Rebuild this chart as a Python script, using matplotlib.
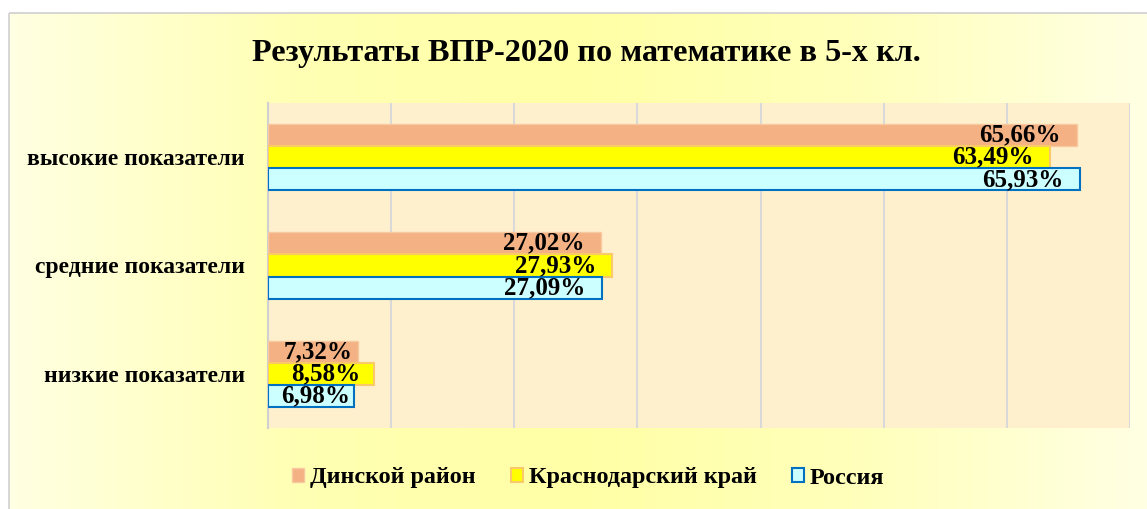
import numpy as np
import matplotlib.pyplot as plt
from matplotlib.patches import Rectangle
from matplotlib.colors import LinearSegmentedColormap

plt.rcParams['font.family'] = ['Liberation Serif', 'DejaVu Serif']
plt.rcParams['font.weight'] = 'bold'

categories = ['высокие показатели', 'средние показатели', 'низкие показатели']
series_names = ['Динской район', 'Краснодарский край', 'Россия']
dinskoy = [65.66, 27.02, 7.32]
krasnodar = [63.49, 27.93, 8.58]
russia = [65.93, 27.09, 6.98]

fills = ['#F4B183', '#FFFF00', '#CCFFFF']
edges = ['#F8C8A0', '#F9C96A', '#0070C0']
lws = [1.0, 1.5, 1.5]

W, H = 1147, 509
fig = plt.figure(figsize=(W / 100, H / 100), dpi=100, facecolor='white')

# background of the chart area with a soft yellow gradient
bg = fig.add_axes([0, 0, 1, 1])
bg.set_xlim(0, W)
bg.set_ylim(H, 0)
bg.axis('off')
cmap = LinearSegmentedColormap.from_list('bgy', ['#FFFFE2', '#FFFFB4', '#FFFFA6', '#FFFFBC', '#FFFFE4'])
grad = np.tile(np.linspace(0, 1, 256), (8, 1))
bg.imshow(grad, cmap=cmap, extent=(9, W + 5, H + 5, 13), aspect='auto', zorder=0)
bg.add_patch(Rectangle((9, 13), W, H, fill=False, edgecolor='#D0D0D0', lw=1.2, zorder=1))

bg.text(586, 53, 'Результаты ВПР-2020 по математике в 5-х кл.', ha='center', va='center',
        fontsize=23.2, fontweight='bold')

ax = fig.add_axes([268 / W, 1 - 428 / H, (1130 - 268) / W, (428 - 103) / H])
ax.set_facecolor('#FFF0CD')

y = np.arange(len(categories))
h = 0.205
offsets = [-h, 0, h]
values = [dinskoy, krasnodar, russia]

for vals, off, fc, ec, lw, name in zip(values, offsets, fills, edges, lws, series_names):
    bars = ax.barh(y + off, vals, height=h, color=fc, edgecolor=ec, linewidth=lw, label=name, zorder=3)
    for b, v in zip(bars, vals):
        txt = f'{v:.2f}%'.replace('.', ',')
        cy = b.get_y() + b.get_height() / 2
        if v > 15:
            ax.text(v - 1.3, cy, txt, ha='right', va='center', fontsize=18, fontweight='bold', zorder=4)
        else:
            ax.text(v / 2 + 0.4, cy, txt, ha='center', va='center', fontsize=18, fontweight='bold', zorder=4)

ax.set_xlim(0, 70)
ax.set_ylim(len(categories) - 0.5, -0.5)
ax.set_xticks(np.arange(0, 71, 10))
ax.set_xticklabels([])
ax.grid(axis='x', color='#D9D9D9', lw=1.5, zorder=0)
ax.set_yticks(y)
ax.set_yticklabels(categories, fontsize=17, fontweight='bold')
ax.tick_params(length=0, pad=16.5)
for s in ['top', 'right', 'bottom']:
    ax.spines[s].set_visible(False)
ax.spines['left'].set_color('#D0D0D0')
ax.spines['left'].set_linewidth(1.5)

leg = fig.legend(loc='center', bbox_to_anchor=(588 / W, 1 - 478 / H), ncol=3, frameon=False,
                 prop={'size': 17.4, 'weight': 'bold'}, handlelength=0.5, handleheight=0.5,
                 handletextpad=0.25, columnspacing=1.45)

fig.savefig('out.png', dpi=100, facecolor='white')
